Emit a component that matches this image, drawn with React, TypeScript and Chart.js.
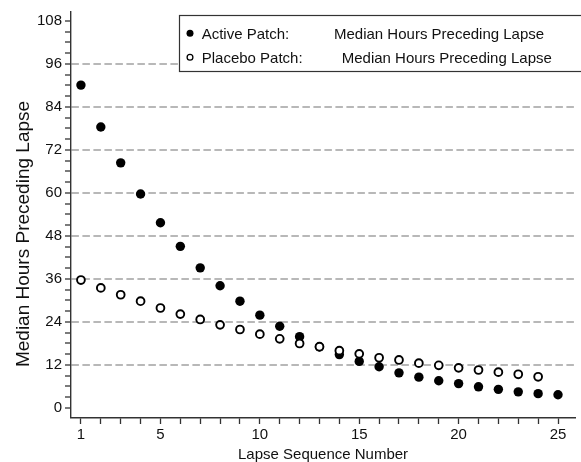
import React, { useEffect, useRef } from 'react';
import { Chart, registerables } from 'chart.js';

Chart.register(...registerables);

const lapseNumbers = [1, 2, 3, 4, 5, 6, 7, 8, 9, 10, 11, 12, 13, 14, 15, 16, 17, 18, 19, 20, 21, 22, 23, 24, 25];
const activeHours = [90.1, 78.4, 68.4, 59.7, 51.7, 45.1, 39.1, 34.1, 29.8, 25.9, 22.8, 19.9, 17.0, 14.9, 13.0, 11.5, 9.8, 8.6, 7.6, 6.8, 5.9, 5.2, 4.5, 4.0, 3.7];
const placeboHours = [35.7, 33.5, 31.6, 29.8, 27.9, 26.2, 24.7, 23.2, 21.9, 20.6, 19.3, 18.0, 17.1, 16.0, 15.1, 14.0, 13.4, 12.5, 11.9, 11.2, 10.6, 10.0, 9.4, 8.7];
const xTickLabels = [1, 5, 10, 15, 20, 25];
const yTickLabels = [0, 12, 24, 36, 48, 60, 72, 84, 96, 108];
const yGridValues = [12, 24, 36, 48, 60, 72, 84, 96];
const seriesNames = ['Active Patch:', 'Placebo Patch:'];
const seriesMeasure = 'Median Hours Preceding Lapse';
const xTitle = 'Lapse Sequence Number';
const yTitle = 'Median Hours Preceding Lapse';

const FONT = '"Liberation Sans", Arial, Helvetica, sans-serif';
const AXIS = '#333333';
const TEXT = '#111111';

const overlayPlugin = {
  id: 'overlay',
  afterDraw(chart: any) {
    const ctx = chart.ctx as CanvasRenderingContext2D;
    // y-axis title
    ctx.save();
    ctx.translate(28.6, 234);
    ctx.rotate(-Math.PI / 2);
    ctx.font = `19px ${FONT}`;
    ctx.fillStyle = TEXT;
    ctx.textAlign = 'center';
    ctx.textBaseline = 'alphabetic';
    ctx.fillText(yTitle, 0, 0);
    ctx.restore();

    // legend box
    ctx.save();
    ctx.fillStyle = '#ffffff';
    ctx.fillRect(179.5, 15.5, 420, 56);
    ctx.strokeStyle = AXIS;
    ctx.lineWidth = 1.2;
    ctx.strokeRect(179.5, 15.5, 420, 56);

    // markers
    ctx.beginPath();
    ctx.arc(190, 33.3, 3.5, 0, Math.PI * 2);
    ctx.fillStyle = '#000';
    ctx.fill();
    ctx.beginPath();
    ctx.arc(190, 57.3, 2.9, 0, Math.PI * 2);
    ctx.fillStyle = '#fff';
    ctx.fill();
    ctx.lineWidth = 1.3;
    ctx.strokeStyle = '#000';
    ctx.stroke();

    ctx.font = `15px ${FONT}`;
    ctx.fillStyle = TEXT;
    ctx.textAlign = 'left';
    ctx.textBaseline = 'alphabetic';
    ctx.fillText(seriesNames[0], 201.7, 39);
    ctx.fillText(seriesMeasure, 334, 39);
    ctx.fillText(seriesNames[1], 201.7, 63);
    ctx.fillText(seriesMeasure, 341.7, 63);
    ctx.restore();
  },
};

export default function App() {
  const canvasRef = useRef<HTMLCanvasElement | null>(null);

  useEffect(() => {
    const canvas = canvasRef.current;
    if (!canvas) return;

    const chart = new Chart(canvas, {
      type: 'scatter',
      data: {
        datasets: [
          {
            label: seriesNames[1],
            data: placeboHours.map((v, i) => ({ x: lapseNumbers[i], y: v })),
            pointRadius: 3.9,
            pointBorderWidth: 1.9,
            pointBackgroundColor: '#ffffff',
            pointBorderColor: '#000000',
            order: 0,
          },
          {
            label: seriesNames[0],
            data: activeHours.map((v, i) => ({ x: lapseNumbers[i], y: v })),
            pointRadius: 4.7,
            pointBorderWidth: 0,
            pointBackgroundColor: '#000000',
            pointBorderColor: '#000000',
            order: 1,
          },
        ],
      },
      options: {
        responsive: false,
        animation: false,
        layout: { padding: { top: 12, right: 0, bottom: 0, left: 0 } },
        plugins: {
          legend: { display: false },
          tooltip: { enabled: false },
        },
        scales: {
          x: {
            type: 'linear',
            min: 0.5,
            max: 25.86,
            afterFit: (scale: any) => {
              scale.height = 44;
            },
            border: { display: true, color: AXIS, width: 1.4 },
            grid: {
              drawOnChartArea: false,
              drawTicks: true,
              tickLength: 6,
              tickColor: AXIS,
              tickWidth: 1.3,
            },
            ticks: {
              stepSize: 1,
              autoSkip: false,
              includeBounds: false,
              maxRotation: 0,
              padding: 2,
              color: TEXT,
              font: { family: FONT, size: 15 },
              callback: (value: any) => (xTickLabels.includes(Number(value)) ? String(value) : ''),
            },
            title: {
              display: true,
              text: xTitle,
              color: TEXT,
              font: { family: FONT, size: 15, lineHeight: 1 },
              padding: { top: 0, bottom: 0 },
            },
          },
          y: {
            type: 'linear',
            min: -2.8,
            max: 110.5,
            afterFit: (scale: any) => {
              scale.width = 71;
            },
            border: { display: true, color: AXIS, width: 1.4, dash: [7.5, 3.5] },
            grid: {
              drawOnChartArea: true,
              drawTicks: true,
              tickLength: 6,
              tickColor: AXIS,
              tickWidth: 1.3,
              tickBorderDash: [],
              color: (ctx: any) =>
                ctx.tick && yGridValues.includes(Math.round(ctx.tick.value)) ? '#b8b8b8' : 'rgba(0,0,0,0)',
              lineWidth: (ctx: any) =>
                ctx.tick && yGridValues.includes(Math.round(ctx.tick.value)) ? 2 : 0,
            },
            ticks: {
              stepSize: 3,
              autoSkip: false,
              includeBounds: false,
              padding: 3,
              color: TEXT,
              font: { family: FONT, size: 15 },
              callback: (value: any) => (yTickLabels.includes(Number(value)) ? String(value) : ''),
            },
          },
        },
      },
      plugins: [overlayPlugin],
    });

    return () => {
      chart.destroy();
    };
  }, []);

  return (
    <div style={{ position: 'fixed', left: 0, top: 0, width: 581, height: 462, background: '#fff' }}>
      <canvas ref={canvasRef} width={581} height={462} style={{ display: 'block' }} />
    </div>
  );
}
